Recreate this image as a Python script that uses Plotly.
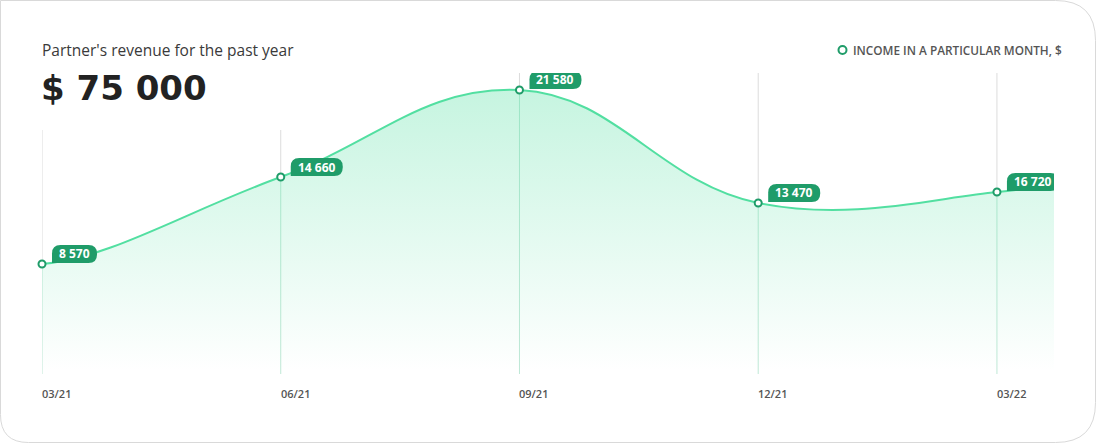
import plotly.graph_objects as go

# ---------------- data ----------------
months = ["03/21", "06/21", "09/21", "12/21", "03/22"]
label_values = ["8 570", "14 660", "21 580", "13 470", "16 720"]
curve_values = [8265, 14922, 21580, 12933, 13775]   # plotted levels
tail_value = 14387                                  # curve continues to the card edge
tail_offset = 0.239                                 # in quarter steps past the last month
lead_value = 9300                                   # curve enters from before the first month (clipped)
lead_offset = 0.3
title_text = "Partner's revenue for the past year"
total_text = "$ 75 000"
legend_text = "INCOME IN A PARTICULAR MONTH, $"

# ---------------- layout geometry ----------------
W, H = 1096, 443
ML, MR, MT, MB = 42, 42, 73, 71
Y_MAX = 22880
PW, PH = W - ML - MR, H - MT - MB

def px_x(px):
    return (px - ML) / PW

def px_y(py):
    return (H - MB - py) / PH

LINE = "#52dfa1"
DARK = "#1f9c69"
FONT = "Open Sans"

xs = list(range(len(months)))
fig = go.Figure()

# area + line
fig.add_trace(go.Scatter(
    x=[xs[0] - lead_offset] + xs + [xs[-1] + tail_offset],
    y=[lead_value] + curve_values + [tail_value],
    mode="lines",
    line=dict(color=LINE, width=2, shape="spline", smoothing=1.2),
    fill="tozeroy",
    fillgradient=dict(
        type="vertical",
        colorscale=[[0, "rgba(82,223,161,0.0)"], [1, "rgba(82,223,161,0.33)"]],
        start=0, stop=max(curve_values),
    ),
    hoverinfo="skip",
    showlegend=False,
))

# markers
fig.add_trace(go.Scatter(
    x=xs, y=curve_values, mode="markers",
    marker=dict(size=7, color="white", line=dict(color=DARK, width=2)),
    hoverinfo="skip", showlegend=False, cliponaxis=False,
))

shapes = []
annotations = []

# card border (pixel -> paper)
def P(px, py):
    return f"{px_x(px):.5f},{px_y(py):.5f}"

x0c, y0c, x1c, y1c = 0.5, 0.5, 1095.5, 442.5
rR, rBL = 40, 28
card = (
    f"M {P(x0c, y0c)} L {P(x1c - rR, y0c)} Q {P(x1c, y0c)} {P(x1c, y0c + rR)} "
    f"L {P(x1c, y1c - rR)} Q {P(x1c, y1c)} {P(x1c - rR, y1c)} "
    f"L {P(x0c + rBL, y1c)} Q {P(x0c, y1c)} {P(x0c, y1c - rBL)} Z"
)
shapes.append(dict(type="path", xref="paper", yref="paper", path=card,
                   line=dict(color="#d9d9d9", width=1), fillcolor="rgba(0,0,0,0)",
                   layer="below"))

# vertical guide lines
for i, v in enumerate(curve_values):
    top_px = 130 if i < 2 else 73
    shapes.append(dict(type="line", xref="x", yref="paper", x0=i, x1=i,
                       y0=px_y(top_px), y1=v / Y_MAX,
                       line=dict(color="#dcdcdc", width=1), layer="below"))
    shapes.append(dict(type="line", xref="x", yref="paper", x0=i, x1=i,
                       y0=v / Y_MAX, y1=px_y(374),
                       line=dict(color="#bfe8d6", width=1), layer="below"))

# value pills
for i, (v, lab) in enumerate(zip(curve_values, label_values)):
    w = 7 * len(lab) + 10
    bx0, bx1 = 10, 10 + w
    by0, by1 = 1, 19
    r = 8.5
    path = (f"M {bx0},{by0} L {bx1 - r},{by0} Q {bx1},{by0} {bx1},{by0 + r} "
            f"L {bx1},{by1 - r} Q {bx1},{by1} {bx1 - r},{by1} "
            f"L {bx0 + r},{by1} Q {bx0},{by1} {bx0},{by1 - r} Z")
    shapes.append(dict(type="path", xref="x", yref="y", xsizemode="pixel",
                       ysizemode="pixel", xanchor=i, yanchor=v, path=path,
                       fillcolor=DARK, line=dict(width=0)))
    annotations.append(dict(x=i, y=v, xref="x", yref="y", text=lab, showarrow=False,
                            xshift=(bx0 + bx1) / 2, yshift=(by0 + by1) / 2,
                            xanchor="center", yanchor="middle",
                            font=dict(family=FONT, size=12, color="white", weight="bold")))

# month labels
for i, m in enumerate(months):
    annotations.append(dict(x=i, y=px_y(393), xref="x", yref="paper", text=m,
                            showarrow=False, xanchor="left", yanchor="middle",
                            xshift=-2,
                            font=dict(family=FONT, size=11, color="#555555", weight=600)))

# titles
annotations.append(dict(x=px_x(40), y=px_y(50), xref="paper", yref="paper",
                        text=title_text, showarrow=False, xanchor="left", yanchor="middle",
                        font=dict(family=FONT, size=15.5, color="#3a3a3a")))
annotations.append(dict(x=px_x(39), y=px_y(88), xref="paper", yref="paper",
                        text=total_text, showarrow=False, xanchor="left", yanchor="middle",
                        font=dict(family="DejaVu Sans", size=34, color="#222222",
                                  weight="bold")))

# legend
shapes.append(dict(type="circle", xref="paper", yref="paper",
                   x0=px_x(838.5), x1=px_x(846.5), y0=px_y(46), y1=px_y(54),
                   fillcolor="white", line=dict(color=DARK, width=2)))
annotations.append(dict(x=px_x(851), y=px_y(50), xref="paper", yref="paper",
                        text=legend_text, showarrow=False, xanchor="left", yanchor="middle",
                        font=dict(family=FONT, size=11.8, color="#555555", weight=600)))

fig.update_layout(
    width=W, height=H,
    margin=dict(l=ML, r=MR, t=MT, b=MB),
    paper_bgcolor="white", plot_bgcolor="white",
    xaxis=dict(range=[0, xs[-1] + tail_offset], visible=False, fixedrange=True),
    yaxis=dict(range=[0, Y_MAX], visible=False, fixedrange=True),
    shapes=shapes, annotations=annotations,
    showlegend=False,
)

fig.write_html("out.html", config={"displayModeBar": False},
               post_script="document.body.style.margin='0';")
